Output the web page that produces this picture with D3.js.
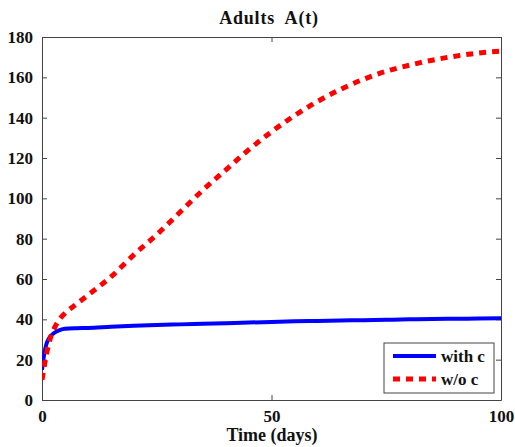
<!DOCTYPE html>
<html>
<head>
<meta charset="utf-8">
<script src="https://cdn.jsdelivr.net/npm/d3@7"></script>
<style>
  body { margin: 0; background: #fff; }
  svg text { font-family: "Liberation Serif", "Times New Roman", serif; font-weight: bold; fill: #111; }
</style>
</head>
<body>
<svg id="chart" width="515" height="447"></svg>
<script>
// time points (days)
var days = [0, 0.5, 1, 1.5, 2, 3, 4, 5, 7.5, 10, 15, 20, 25, 30, 35, 40, 45, 50, 55, 60, 65, 70, 75, 80, 85, 90, 95, 100];
// adults with c
var withC = [15, 23, 28, 30.5, 32, 33.8, 34.8, 35.3, 35.6, 35.7, 36.3, 36.8, 37.2, 37.5, 37.8, 38.1, 38.4, 38.7, 39, 39.2, 39.4, 39.6, 39.8, 40, 40.2, 40.3, 40.4, 40.5];
// adults without c
var withoutC = [10, 17, 23, 28, 32, 37, 40.5, 43, 47.5, 52, 61, 72, 82, 93, 104, 114, 124, 133, 141, 148, 154, 159, 163, 166, 168.5, 170.5, 172, 173];

var xTicks = [0, 50, 100];
var yTicks = [0, 20, 40, 60, 80, 100, 120, 140, 160, 180];

var series = [
    {name: "with c", values: withC, color: "#0000ff", width: 4, dash: null},
    {name: "w/o c", values: withoutC, color: "#ff0000", width: 5, dash: "7,6"}
];

var svg = d3.select("#chart");
var mLeft = 42, mRight = 501, mTop = 37, mBottom = 400;

var x = d3.scaleLinear().domain([0, 100]).range([mLeft, mRight]);
var y = d3.scaleLinear().domain([0, 180]).range([mBottom, mTop]);

var axisColor = "#444";
var serif = "Liberation Serif, Times New Roman, serif";

// axes with inward ticks on all four sides
function styleAxis(g){
    g.attr("font-family", serif);
    g.select(".domain").attr("stroke", axisColor);
    g.selectAll(".tick line").attr("stroke", axisColor);
    g.selectAll("text").attr("font-size", 17).attr("font-weight", "bold").attr("fill", "#111");
}

svg.append("g")
    .attr("transform", "translate(0," + mBottom + ")")
    .call(d3.axisBottom(x).tickValues(xTicks).tickSizeInner(-5).tickSizeOuter(0).tickPadding(10))
    .call(styleAxis);

svg.append("g")
    .attr("transform", "translate(0," + mTop + ")")
    .call(d3.axisTop(x).tickValues(xTicks).tickSizeInner(-5).tickSizeOuter(0).tickFormat(""))
    .call(styleAxis);

svg.append("g")
    .attr("transform", "translate(" + mLeft + ",0)")
    .call(d3.axisLeft(y).tickValues(yTicks).tickSizeInner(-5).tickSizeOuter(0).tickPadding(9))
    .call(styleAxis);

svg.append("g")
    .attr("transform", "translate(" + mRight + ",0)")
    .call(d3.axisRight(y).tickValues(yTicks).tickSizeInner(-5).tickSizeOuter(0).tickFormat(""))
    .call(styleAxis);

var line = d3.line()
    .x(function(d, i){ return x(days[i]); })
    .y(function(d){ return y(d); })
    .curve(d3.curveMonotoneX);

svg.append("defs").append("clipPath").attr("id", "clip")
    .append("rect").attr("x", mLeft).attr("y", mTop).attr("width", mRight - mLeft).attr("height", mBottom - mTop);

svg.selectAll("path.series")
    .data(series)
    .enter()
    .append("path")
    .attr("class", "series")
    .attr("clip-path", "url(#clip)")
    .attr("d", function(d){ return line(d.values); })
    .attr("fill", "none")
    .attr("stroke", function(d){ return d.color; })
    .attr("stroke-width", function(d){ return d.width; })
    .attr("stroke-dasharray", function(d){ return d.dash; });

// title and x label
svg.append("text")
    .attr("x", 269).attr("y", 24)
    .attr("text-anchor", "middle")
    .attr("font-size", 18)
    .attr("letter-spacing", 0.8)
    .style("white-space", "pre")
    .text("Adults  A(t)");

svg.append("text")
    .attr("x", 272).attr("y", 441)
    .attr("text-anchor", "middle")
    .attr("font-size", 18)
    .text("Time (days)");

// legend
var legend = svg.append("g");
legend.append("rect")
    .attr("x", 384).attr("y", 343).attr("width", 110).attr("height", 50)
    .attr("fill", "#fff").attr("stroke", axisColor);

var items = legend.selectAll("g.item")
    .data(series)
    .enter()
    .append("g")
    .attr("transform", function(d, i){ return "translate(0," + (356 + i * 23) + ")"; });

items.append("line")
    .attr("x1", 393).attr("x2", 436).attr("y1", 0).attr("y2", 0)
    .attr("stroke", function(d){ return d.color; })
    .attr("stroke-width", function(d){ return d.width; })
    .attr("stroke-dasharray", function(d){ return d.dash; });

items.append("text")
    .attr("x", 441).attr("y", 6)
    .attr("font-size", 17)
    .text(function(d){ return d.name; });
</script>
</body>
</html>
